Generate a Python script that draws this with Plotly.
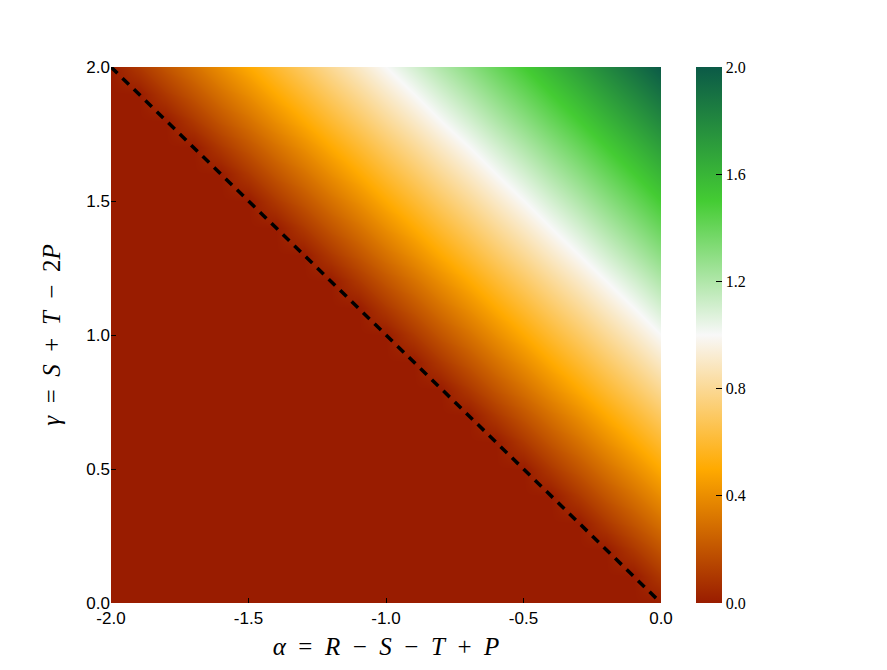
import plotly.graph_objects as go

# grid coordinates
alpha_vals = [-2.0, -1.9, -1.8, -1.7, -1.6, -1.5, -1.4, -1.3, -1.2, -1.1, -1.0,
              -0.9, -0.8, -0.7, -0.6, -0.5, -0.4, -0.3, -0.2, -0.1, 0.0]
gamma_vals = [0.0, 0.1, 0.2, 0.3, 0.4, 0.5, 0.6, 0.7, 0.8, 0.9, 1.0,
              1.1, 1.2, 1.3, 1.4, 1.5, 1.6, 1.7, 1.8, 1.9, 2.0]

# values (rows: gamma, columns: alpha)
z_vals = [
    [0, 0, 0, 0, 0, 0, 0, 0, 0, 0, 0, 0, 0, 0, 0, 0, 0, 0, 0, 0, 0],
    [0, 0, 0, 0, 0, 0, 0, 0, 0, 0, 0, 0, 0, 0, 0, 0, 0, 0, 0, 0, 0.1],
    [0, 0, 0, 0, 0, 0, 0, 0, 0, 0, 0, 0, 0, 0, 0, 0, 0, 0, 0, 0.1, 0.2],
    [0, 0, 0, 0, 0, 0, 0, 0, 0, 0, 0, 0, 0, 0, 0, 0, 0, 0, 0.1, 0.2, 0.3],
    [0, 0, 0, 0, 0, 0, 0, 0, 0, 0, 0, 0, 0, 0, 0, 0, 0, 0.1, 0.2, 0.3, 0.4],
    [0, 0, 0, 0, 0, 0, 0, 0, 0, 0, 0, 0, 0, 0, 0, 0, 0.1, 0.2, 0.3, 0.4, 0.5],
    [0, 0, 0, 0, 0, 0, 0, 0, 0, 0, 0, 0, 0, 0, 0, 0.1, 0.2, 0.3, 0.4, 0.5, 0.6],
    [0, 0, 0, 0, 0, 0, 0, 0, 0, 0, 0, 0, 0, 0, 0.1, 0.2, 0.3, 0.4, 0.5, 0.6, 0.7],
    [0, 0, 0, 0, 0, 0, 0, 0, 0, 0, 0, 0, 0, 0.1, 0.2, 0.3, 0.4, 0.5, 0.6, 0.7, 0.8],
    [0, 0, 0, 0, 0, 0, 0, 0, 0, 0, 0, 0, 0.1, 0.2, 0.3, 0.4, 0.5, 0.6, 0.7, 0.8, 0.9],
    [0, 0, 0, 0, 0, 0, 0, 0, 0, 0, 0, 0.1, 0.2, 0.3, 0.4, 0.5, 0.6, 0.7, 0.8, 0.9, 1.0],
    [0, 0, 0, 0, 0, 0, 0, 0, 0, 0, 0.1, 0.2, 0.3, 0.4, 0.5, 0.6, 0.7, 0.8, 0.9, 1.0, 1.1],
    [0, 0, 0, 0, 0, 0, 0, 0, 0, 0.1, 0.2, 0.3, 0.4, 0.5, 0.6, 0.7, 0.8, 0.9, 1.0, 1.1, 1.2],
    [0, 0, 0, 0, 0, 0, 0, 0, 0.1, 0.2, 0.3, 0.4, 0.5, 0.6, 0.7, 0.8, 0.9, 1.0, 1.1, 1.2, 1.3],
    [0, 0, 0, 0, 0, 0, 0, 0.1, 0.2, 0.3, 0.4, 0.5, 0.6, 0.7, 0.8, 0.9, 1.0, 1.1, 1.2, 1.3, 1.4],
    [0, 0, 0, 0, 0, 0, 0.1, 0.2, 0.3, 0.4, 0.5, 0.6, 0.7, 0.8, 0.9, 1.0, 1.1, 1.2, 1.3, 1.4, 1.5],
    [0, 0, 0, 0, 0, 0.1, 0.2, 0.3, 0.4, 0.5, 0.6, 0.7, 0.8, 0.9, 1.0, 1.1, 1.2, 1.3, 1.4, 1.5, 1.6],
    [0, 0, 0, 0, 0.1, 0.2, 0.3, 0.4, 0.5, 0.6, 0.7, 0.8, 0.9, 1.0, 1.1, 1.2, 1.3, 1.4, 1.5, 1.6, 1.7],
    [0, 0, 0, 0.1, 0.2, 0.3, 0.4, 0.5, 0.6, 0.7, 0.8, 0.9, 1.0, 1.1, 1.2, 1.3, 1.4, 1.5, 1.6, 1.7, 1.8],
    [0, 0, 0.1, 0.2, 0.3, 0.4, 0.5, 0.6, 0.7, 0.8, 0.9, 1.0, 1.1, 1.2, 1.3, 1.4, 1.5, 1.6, 1.7, 1.8, 1.9],
    [0, 0.1, 0.2, 0.3, 0.4, 0.5, 0.6, 0.7, 0.8, 0.9, 1.0, 1.1, 1.2, 1.3, 1.4, 1.5, 1.6, 1.7, 1.8, 1.9, 2.0],
]

# dashed boundary line alpha + gamma = 0
line_alpha = [-2.0, 0.0]
line_gamma = [2.0, 0.0]

x_ticks = [-2.0, -1.5, -1.0, -0.5, 0.0]
x_tick_labels = ["-2.0", "-1.5", "-1.0", "-0.5", "0.0"]
y_ticks = [0.0, 0.5, 1.0, 1.5, 2.0]
y_tick_labels = ["0.0", "0.5", "1.0", "1.5", "2.0"]
cbar_ticks = [0.0, 0.4, 0.8, 1.2, 1.6, 2.0]
cbar_tick_labels = ["0.0", "0.4", "0.8", "1.2", "1.6", "2.0"]

colorscale = [
    [0.0, "#991c00"],
    [0.25, "#ffaa00"],
    [0.5, "#f8f8f8"],
    [0.75, "#44cc33"],
    [1.0, "#0b5a47"],
]

SERIF = "Liberation Serif, Times New Roman, serif"
SP = "\u2002"  # en space, mimics TeX math spacing

x_title = f"<i>α</i>{SP}={SP}<i>R</i>{SP}−{SP}<i>S</i>{SP}−{SP}<i>T</i>{SP}+{SP}<i>P</i>"
y_title = f"<i>γ</i>{SP}={SP}<i>S</i>{SP}+{SP}<i>T</i>{SP}−{SP}2<i>P</i>"

fig = go.Figure()
fig.add_trace(go.Heatmap(
    x=alpha_vals, y=gamma_vals, z=z_vals,
    zmin=0, zmax=2, zsmooth="best",
    colorscale=colorscale,
    hoverinfo="skip",
    colorbar=dict(
        x=(696 - 111) / 550, xanchor="left", xref="paper",
        y=0.5, yanchor="middle", len=1.0, lenmode="fraction",
        thickness=26, thicknessmode="pixels",
        outlinewidth=0,
        ticks="inside", ticklen=6, tickwidth=1, tickcolor="black",
        tickvals=cbar_ticks, ticktext=cbar_tick_labels,
        tickfont=dict(family=SERIF, size=16, color="black"),
        ypad=0, xpad=0,
    ),
))
fig.add_trace(go.Scatter(
    x=line_alpha, y=line_gamma, mode="lines",
    line=dict(color="black", width=3.5, dash="9px,7px"),
    hoverinfo="skip", showlegend=False,
))

axis_common = dict(
    showgrid=False, zeroline=False, showline=False, automargin=False,
    ticks="inside", ticklen=5, tickwidth=1, tickcolor="black",
    tickfont=dict(family="Liberation Sans, Arial, sans-serif", size=17, color="black"),
)

# the page body adds an 8px offset, so margins are reduced accordingly
fig.update_layout(
    width=879, height=662,
    margin=dict(l=103, r=226, t=59, b=67, autoexpand=False),
    paper_bgcolor="white", plot_bgcolor="white",
    showlegend=False,
    xaxis=dict(
        range=[-2, 0], tickvals=x_ticks, ticktext=x_tick_labels, **axis_common,
        ticklabelstandoff=3,
        title=dict(text=x_title,
                   font=dict(family=SERIF, size=25, color="black"),
                   standoff=10),
    ),
    yaxis=dict(
        range=[0, 2], tickvals=y_ticks, ticktext=y_tick_labels, **axis_common,
        title=dict(text=y_title,
                   font=dict(family=SERIF, size=25, color="black"),
                   standoff=18),
    ),
)

fig.write_html("out.html")
